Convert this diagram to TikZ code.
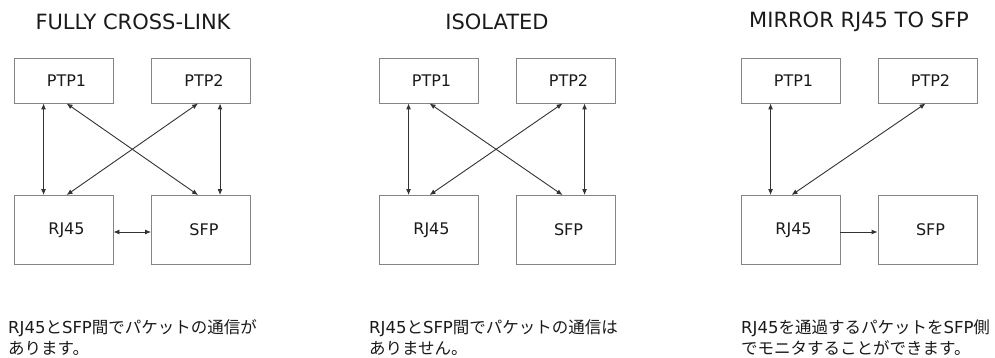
\documentclass[tikz,border=0pt]{standalone}
\usepackage{fontspec}
\setmainfont{DejaVu Sans}
\newfontfamily\cjk{Noto Sans CJK JP}
\usetikzlibrary{arrows.meta}
\definecolor{boxgray}{HTML}{858585}
\definecolor{linegray}{HTML}{333333}
\definecolor{txt}{HTML}{1A1A1A}
\tikzset{
  box/.style={draw=boxgray, line width=0.9pt, minimum width=99pt, inner sep=0pt, text=txt, font=\fontsize{16}{18}\selectfont},
  topbox/.style={box, minimum height=45pt},
  botbox/.style={box, minimum height=69pt},
  title/.style={text=txt, font=\fontsize{21}{24}\selectfont, inner sep=0pt},
  note/.style={text=txt, font=\fontsize{16.5}{21}\selectfont, inner sep=0pt, anchor=base west},
  tip/.tip={Latex[length=6pt,width=5pt]},
  arr/.style={draw=linegray, line width=0.9pt, tip-tip},
  arrone/.style={draw=linegray, line width=0.9pt, -tip},
}
\begin{document}
\begin{tikzpicture}[x=1pt,y=-1pt]
\useasboundingbox (0,0) rectangle (995,358);
% panel 1
\node[title] (T1) at (133,22) {FULLY CROSS-LINK};
\node[topbox] (A1) at (63.5,80.5) {\hspace{6pt}PTP1};
\node[topbox] (B1) at (201,80.5) {\hspace{6pt}PTP2};
\node[botbox] (C1) at (63.5,230) {\hspace{6pt}RJ45};
\node[botbox] (D1) at (201,230) {\hspace{6pt}SFP};
\draw[arr] ([xshift=30pt]A1.south west) -- ([xshift=30pt]C1.north west);
\draw[arr] ([xshift=53pt]A1.south west) -- ([xshift=47pt]D1.north west);
\draw[arr] ([xshift=47pt]B1.south west) -- ([xshift=53pt]C1.north west);
\draw[arr] ([xshift=69pt]B1.south west) -- ([xshift=69pt]D1.north west);
\draw[arr] ([yshift=-2pt]C1.east) -- ([yshift=-2pt]D1.west);
\node[note] (N1a) at (8,333) {RJ45{\cjk と}SFP{\cjk 間でパケットの通信が}};
\node[note] (N1b) at (8,354) {\cjk あります。};
% panel 2
\node[title] (T2) at (497,22) {ISOLATED};
\node[topbox] (A2) at (428.5,80.5) {\hspace{6pt}PTP1};
\node[topbox] (B2) at (565.5,80.5) {\hspace{6pt}PTP2};
\node[botbox] (C2) at (428.5,230) {\hspace{6pt}RJ45};
\node[botbox] (D2) at (565.5,230) {\hspace{6pt}SFP};
\draw[arr] ([xshift=30pt]A2.south west) -- ([xshift=30pt]C2.north west);
\draw[arr] ([xshift=51pt]A2.south west) -- ([xshift=47pt]D2.north west);
\draw[arr] ([xshift=47pt]B2.south west) -- ([xshift=51pt]C2.north west);
\draw[arr] ([xshift=69pt]B2.south west) -- ([xshift=69pt]D2.north west);
\node[note] (N2a) at (369,333) {RJ45{\cjk と}SFP{\cjk 間でパケットの通信は}};
\node[note] (N2b) at (369,354) {\cjk ありません。};
% panel 3
\node[title] (T3) at (859,22) {MIRROR RJ45 TO SFP};
\node[topbox] (A3) at (790.5,80.5) {\hspace{6pt}PTP1};
\node[topbox] (B3) at (927.5,80.5) {\hspace{6pt}PTP2};
\node[botbox] (C3) at (790.5,230) {\hspace{6pt}RJ45};
\node[botbox] (D3) at (927.5,230) {\hspace{6pt}SFP};
\draw[arr] ([xshift=30pt]A3.south west) -- ([xshift=30pt]C3.north west);
\draw[arr] ([xshift=48pt]B3.south west) -- ([xshift=51pt]C3.north west);
\draw[arrone] ([yshift=-2pt]C3.east) -- ([yshift=-2pt]D3.west);
\node[note] (N3a) at (741,333) {RJ45{\cjk を通過するパケットを}SFP{\cjk 側}};
\node[note] (N3b) at (741,354) {\cjk でモニタすることができます。};
\end{tikzpicture}
\end{document}
